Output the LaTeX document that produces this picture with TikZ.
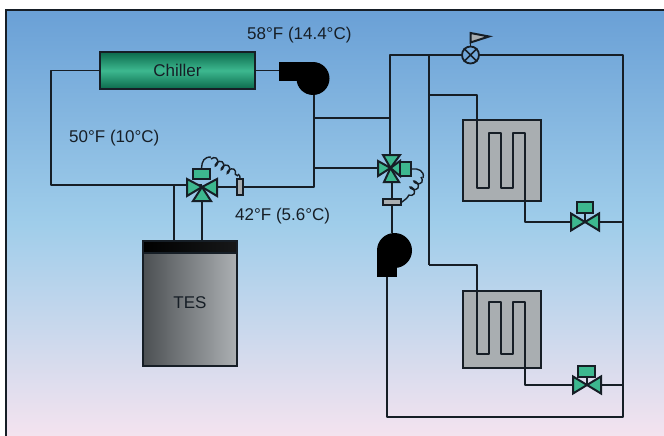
\documentclass[tikz,border=0pt]{standalone}
\usepackage{fontspec}
\setmainfont{Liberation Sans}
\usetikzlibrary{decorations.pathmorphing}
\definecolor{ink}{HTML}{161E26}
\definecolor{vgreen}{HTML}{3DB88F}
\definecolor{boxgray}{HTML}{A9AEB1}
\definecolor{skytop}{HTML}{6AA0D6}
\definecolor{skymid}{HTML}{9FCDEA}
\definecolor{skybot}{HTML}{F4E3EF}
\definecolor{chilldark}{HTML}{0C6A4C}
\definecolor{tesdark}{HTML}{4C5053}
\definecolor{teslight}{HTML}{ACB0B3}
\tikzset{
 pipe/.style={draw=ink,line width=1.9pt,line join=round},
 part/.style={draw=ink,line width=2pt,line join=miter},
 vfill/.style={part,fill=vgreen},
 label/.style={font=\fontsize{17}{18}\selectfont,text=ink,inner sep=0pt},
 coilbox/.style={part,fill=boxgray,rectangle,minimum width=78pt,inner sep=0pt},
 act/.style={vfill,rectangle,inner sep=0pt},
 sensor/.style={part,fill=boxgray,rectangle,inner sep=0pt},
 spring/.style={draw=ink,line width=1.4pt,decorate,decoration={coil,aspect=0.6,amplitude=3.6pt,segment length=7pt}},
 wire/.style={draw=ink,line width=1.4pt},
 pics/twoway/.style={code={
   \draw[pipe] (0,0)--(0,-9);
   \draw[vfill] (0,0)--(-14,-8.5)--(-14,8.5)--cycle;
   \draw[vfill] (0,0)--(14,-8.5)--(14,8.5)--cycle;
 }},
}
\begin{document}
\begin{tikzpicture}[x=1pt,y=-1pt]
\useasboundingbox (0,0) rectangle (664,436);
\fill[white] (0,0) rectangle (664,436);
\shade[top color=skytop,bottom color=skybot,middle color=skymid] (6,10) rectangle (664,436);
\draw[draw=ink,line width=2pt] (6,436)--(6,10)--(664,10);

% named points of the pipe network
\coordinate (v1) at (202,187);
\coordinate (v2) at (390.5,168);
\coordinate (v3) at (585,222);
\coordinate (v4) at (587,385);
\coordinate (bal) at (470.5,55);
\coordinate (j1) at (51,70.5);
\coordinate (j2) at (51,185);
\coordinate (j2b) at (202,185);
\coordinate (j3) at (174,185);
\coordinate (j4) at (314,187);
\coordinate (j5) at (314,118);
\coordinate (j6) at (314,168);
\coordinate (j7) at (390,118);
\coordinate (j8) at (390,55);
\coordinate (j9) at (429,55);
\coordinate (j10) at (623,55);
\coordinate (j11) at (623,417);
\coordinate (j12) at (387,417);
\coordinate (j13) at (429,95);
\coordinate (j14) at (429,265);
\coordinate (j15) at (623,222);
\coordinate (j16) at (623,385);
\coordinate (j17) at (390,156);

% parts that sit under the pipes
\node[coilbox,minimum height=81pt] (coilA) at (502,160.5) {};
\node[coilbox,minimum height=77pt] (coilB) at (502,329.5) {};

\node[part,rectangle,inner sep=0pt,minimum width=155pt,minimum height=37pt,
  top color=chilldark,bottom color=chilldark,middle color=vgreen,
  font=\fontsize{17}{18}\selectfont,text=ink] (chiller) at (177.5,70.5) {Chiller};
\node[part,rectangle,inner sep=0pt,minimum width=94pt,minimum height=125pt,anchor=north,
  left color=tesdark,right color=teslight] (tes) at (190,240) {};
\node[part,rectangle,inner sep=0pt,minimum width=94pt,minimum height=12pt,anchor=north,
  left color=black,right color=black!70!tesdark] (tescap) at (190,240) {};
\node[label] (teslabel) at (190,303) {TES};

\coordinate (fanA) at (280,70.5);
\coordinate (fanB) at (314,95);
\coordinate (pumpA) at (392,233);
\coordinate (pumpB) at (387,277);

% pipes
\draw[pipe] (chiller.west)--(j1)--(j2)--(j2b);
\draw[pipe] (chiller.east)--(fanA);
\draw[pipe] (j3)--(j3|-tes.north);
\draw[pipe] (v1)--(v1|-tes.north);
\draw[pipe] (v1)--(j4)--(fanB);
\draw[pipe] (j5)--(j7);
\draw[pipe] (j17)--(j8)--(j10)--(j11)--(j12)--(pumpB);
\draw[pipe] (j6)--(v2);
\draw[pipe] (v2)--(392,168)--(pumpA);
\draw[pipe] (j9)--(j14);
\draw[pipe] (j13)--(477,95)--(477,188)--(489,188)--(489,133)--(501,133)--(501,188)--(513,188)--(513,133)--(525,133)--(525,222)--(v3)--(j15);
\draw[pipe] (j14)--(477,265)--(477,354)--(489,354)--(489,302)--(501,302)--(501,354)--(513,354)--(513,302)--(525,302)--(525,385)--(v4)--(j16);

% fan and pump
\fill[black] (313,78.5) circle (16.5);
\fill[black] (279,62) rectangle (313,81);
\fill[black] (394.5,250.5) circle (17.5);
\fill[black] (377,250.5) rectangle (397,277);

% balancing valve with flag
\draw[part,fill=boxgray] (470.5,33)--(489,36.5)--(470.5,42.5)--cycle;
\draw[pipe] (bal)--(470.5,32);
\node[circle,draw=ink,line width=1.8pt,minimum size=17pt,inner sep=0pt,fill=skytop!85!skymid] (balv) at (bal) {};
\draw[pipe,line width=1.5pt] (balv.north west)--(balv.south east) (balv.north east)--(balv.south west);

% valve 1
\draw[vfill] (v1)--(187,179)--(187,196)--cycle;
\draw[vfill] (v1)--(217,179)--(217,196)--cycle;
\draw[vfill] (v1)--(193,201)--(211,201)--cycle;
\node[act,minimum width=17pt,minimum height=10pt] (act1) at (201.5,174) {};
\node[sensor,minimum width=6pt,minimum height=16pt] (sen1) at (240,187) {};
\draw[wire] (act1.north) .. controls (202,161) and (204,157) .. (211,157);
\draw[spring] (211,159)--(238,176);
\draw[wire] (238,174) .. controls (240,175) and (240,177) .. (sen1.north);

% valve 2
\draw[vfill] (v2)--(378,161)--(378,176)--cycle;
\draw[vfill] (v2)--(383,155)--(400,155)--cycle;
\draw[vfill] (v2)--(384,182)--(399,182)--cycle;
\draw[vfill] (v2)--(400,161)--(400,176)--cycle;
\node[act,minimum width=11pt,minimum height=14pt] (act2) at (405.5,169) {};
\node[sensor,minimum width=18pt,minimum height=6pt] (sen2) at (392,202) {};
\draw[wire] (act2.east) .. controls (418,168) and (425,171) .. (423,178);
\draw[spring] (421,177)--(407,198);
\draw[wire] (407,198) -- (sen2.east);

% two-way valves
\pic at (v3) {twoway};
\pic at (v4) {twoway};
\node[act,minimum width=16pt,minimum height=11pt] (act3) at (585,207.5) {};
\node[act,minimum width=17pt,minimum height=10.5pt] (act4) at (586.5,371.5) {};

% labels
\node[label,anchor=west] (t58) at (247,35) {58°F (14.4°C)};
\node[label,anchor=west] (t50) at (69,138) {50°F (10°C)};
\node[label,anchor=west] (t42) at (235,216) {42°F (5.6°C)};
\end{tikzpicture}
\end{document}
